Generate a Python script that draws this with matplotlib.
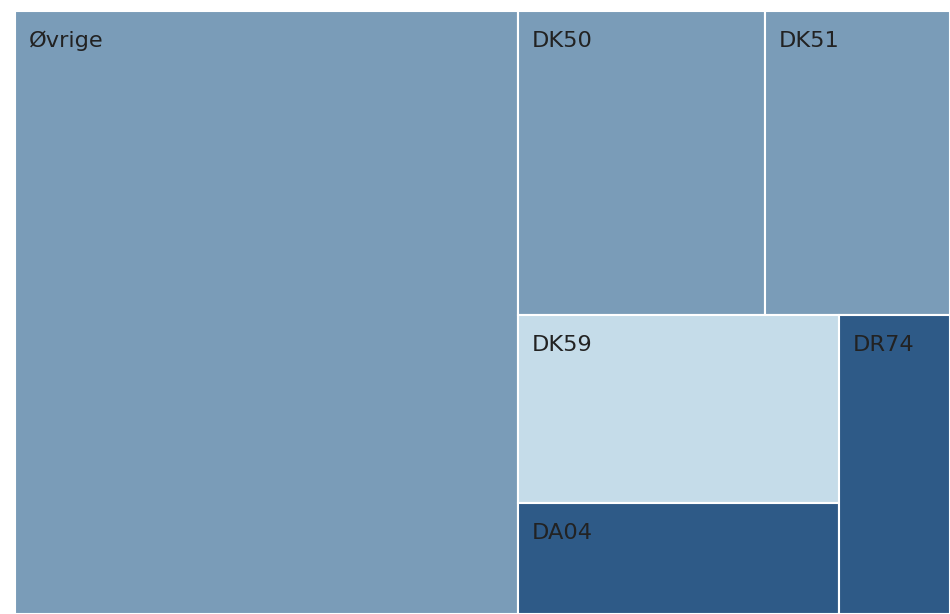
import matplotlib
matplotlib.use("Agg")
import matplotlib.pyplot as plt
from matplotlib.patches import Rectangle

# Share of total per group (percent)
labels = ["Øvrige", "DK50", "DK51", "DK59", "DA04", "DR74"]
values = [53.8, 13.3, 10.0, 10.7, 6.3, 5.9]
colors = ["#7a9cb8", "#7a9cb8", "#7a9cb8", "#c5dce9", "#2e5a87", "#2e5a87"]

# Nesting of the tiles: alternate horizontal / vertical splits per level
layout = [0, [[1, 2], [[3, 4], 5]]]


def total(node):
    if isinstance(node, list):
        return sum(total(n) for n in node)
    return values[node]


def place(node, x, y, w, h, level, out):
    if not isinstance(node, list):
        out[node] = (x, y, w, h)
        return
    s = total(node)
    pos = 0.0
    for child in node:
        frac = total(child) / s
        if level % 2 == 0:  # split along x
            place(child, x + pos * w, y, w * frac, h, level + 1, out)
        else:  # split along y, top to bottom
            place(child, x, y + pos * h, w, h * frac, level + 1, out)
        pos += frac


rects = {}
place(layout, 0.0, 0.0, 1.0, 1.0, 0, rects)

fig = plt.figure(figsize=(9.5, 6.14), dpi=100)
ax = fig.add_axes([15 / 950, 0, 935 / 950, 603 / 614])
ax.set_xlim(0, 1)
ax.set_ylim(1, 0)
ax.axis("off")

for i, lab in enumerate(labels):
    x, y, w, h = rects[i]
    ax.add_patch(Rectangle((x, y), w, h, facecolor=colors[i],
                           edgecolor="white", linewidth=1.5))
    ax.annotate(lab, xy=(x, y), xytext=(10, -21.5), textcoords="offset points",
                ha="left", va="center", fontsize=16.2, color="#222222",
                family="DejaVu Sans")

fig.savefig("out.png", dpi=100)
